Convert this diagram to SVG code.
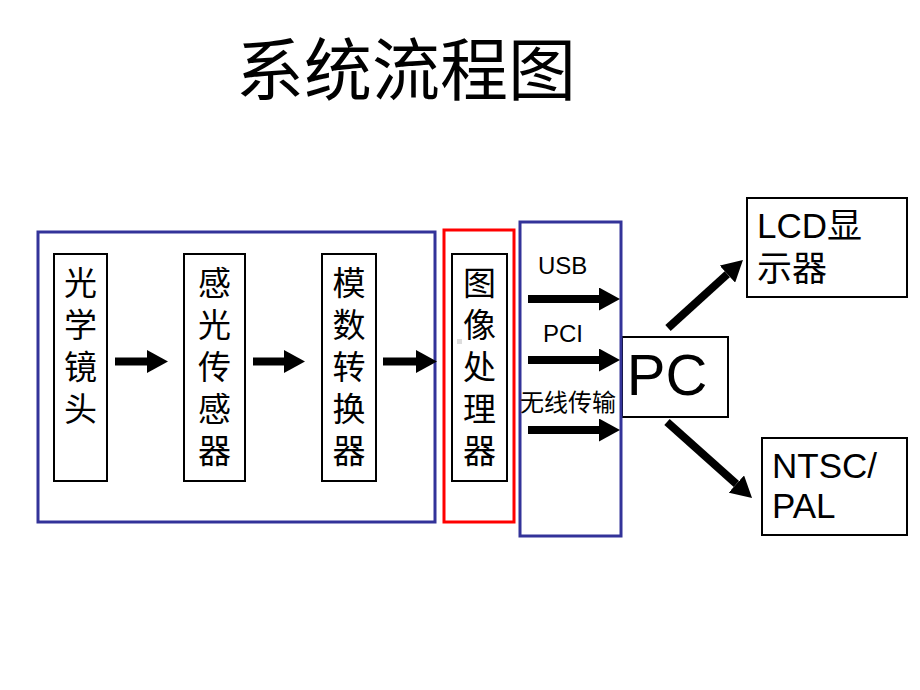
<svg xmlns="http://www.w3.org/2000/svg" width="920" height="690" viewBox="0 0 920 690">
<style>
  .t { font-family: "Liberation Sans", "Noto Sans CJK SC", sans-serif; fill: #000; }
  .cj { font-size: 33px; text-anchor: middle; }
  .box { fill: none; stroke: #000; stroke-width: 2; }
  .blue { fill: none; stroke: #333399; stroke-width: 3; }
  .red { fill: none; stroke: #ff0000; stroke-width: 3; }
  .arr { stroke: #000; stroke-width: 8; fill: none; marker-end: url(#head); }
</style>
<defs>
  <marker id="head" markerUnits="userSpaceOnUse" markerWidth="21" markerHeight="23" refX="0" refY="11.5" orient="auto" viewBox="0 0 21 23">
    <path d="M0,0 L21,11.5 L0,23 Z" fill="#000"/>
  </marker>
</defs>
<rect width="920" height="690" fill="#fff"/>

<g id="title">
  <text class="t" x="406" y="95" font-size="68" text-anchor="middle">系统流程图</text>
</g>

<g id="group-camera">
  <rect class="blue" x="38" y="232" width="397" height="290"/>
</g>

<g id="lens">
  <rect class="box" x="54" y="254" width="53" height="227"/>
  <text class="t cj"><tspan x="80.5" y="295">光</tspan><tspan x="80.5" y="337">学</tspan><tspan x="80.5" y="379">镜</tspan><tspan x="80.5" y="421">头</tspan></text>
</g>

<g id="sensor">
  <rect class="box" x="184" y="254" width="61" height="227"/>
  <text class="t cj"><tspan x="214.5" y="295">感</tspan><tspan x="214.5" y="337">光</tspan><tspan x="214.5" y="379">传</tspan><tspan x="214.5" y="421">感</tspan><tspan x="214.5" y="463">器</tspan></text>
</g>

<g id="adc">
  <rect class="box" x="322" y="254" width="54" height="227"/>
  <text class="t cj"><tspan x="349" y="295">模</tspan><tspan x="349" y="337">数</tspan><tspan x="349" y="379">转</tspan><tspan x="349" y="421">换</tspan><tspan x="349" y="463">器</tspan></text>
</g>

<g id="processor-group">
  <rect class="red" x="444" y="230" width="70" height="292"/>
</g>

<g id="processor">
  <rect class="box" x="452" y="254" width="55" height="227"/>
  <rect x="457" y="339" width="5" height="5" fill="#dddddd"/>
  <text class="t cj"><tspan x="479.5" y="295">图</tspan><tspan x="479.5" y="337">像</tspan><tspan x="479.5" y="379">处</tspan><tspan x="479.5" y="421">理</tspan><tspan x="479.5" y="463">器</tspan></text>
</g>

<g id="pc">
  <rect class="box" x="622" y="337" width="106" height="80"/>
  <text class="t" x="667" y="395" font-size="58" text-anchor="middle">PC</text>
</g>

<g id="interface-group">
  <rect class="blue" x="520" y="222" width="101" height="314"/>
  <text class="t" x="538" y="274" font-size="24">USB</text>
  <text class="t" x="543" y="342" font-size="24">PCI</text>
  <text class="t" x="568" y="411" font-size="24" text-anchor="middle">无线传输</text>
</g>

<g id="lcd">
  <rect class="box" x="747" y="198" width="160" height="99"/>
  <text class="t" font-size="35"><tspan x="757" y="238">LCD显</tspan><tspan x="757" y="281">示器</tspan></text>
</g>

<g id="ntsc">
  <rect class="box" x="762" y="438" width="145" height="97"/>
  <text class="t" font-size="35"><tspan x="772" y="478">NTSC/</tspan><tspan x="772" y="518">PAL</tspan></text>
</g>

<g id="connectors">
  <line class="arr" x1="115" y1="361.5" x2="147" y2="361.5"/>
  <line class="arr" x1="253" y1="361.5" x2="284" y2="361.5"/>
  <line class="arr" x1="383" y1="361.5" x2="416" y2="361.5"/>
  <line class="arr" x1="528" y1="299" x2="599" y2="299"/>
  <line class="arr" x1="528" y1="360" x2="599" y2="360"/>
  <line class="arr" x1="528" y1="430" x2="599" y2="430"/>
  <line class="arr" x1="668" y1="328" x2="727.4" y2="274.1"/>
  <line class="arr" x1="667" y1="422" x2="736.4" y2="484"/>
</g>
</svg>
